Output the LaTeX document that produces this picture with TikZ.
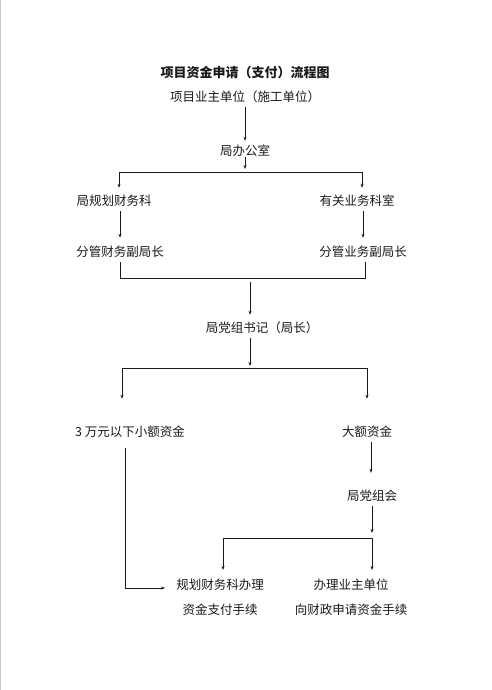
\documentclass[tikz,border=0pt]{standalone}
\usepackage{fontspec}
\setmainfont{Noto Sans CJK SC}
\usetikzlibrary{arrows.meta,calc}
\definecolor{ink}{HTML}{1A1A1A}
\definecolor{edge}{HTML}{C8C8C8}

\begin{document}
\begin{tikzpicture}[x=1pt,y=-1pt,font=\fontsize{12.5}{15}\selectfont,text=ink,
    >={Stealth[length=4pt,width=3pt]},
    lbl/.style={inner sep=0pt,minimum height=20pt},
    arr/.style={->,ink,line width=.8pt},
    ln/.style={ink,line width=.8pt}]
  \useasboundingbox (0,0) rectangle (491,690);
  \draw[edge,line width=1pt] (.5,0)--(.5,690);
  \node[font=\fontsize{13}{15}\selectfont\bfseries] (title) at (245,73)
    {项目资金申请（支付）流程图};

  % Application and office
  \node[lbl] (owner) at (245,97) {项目业主单位（施工单位）};
  \node[lbl] (office) at (245,151) {局办公室};
  \draw[arr] (owner.south) -- (office.north);
  \coordinate (s1) at (245,172);
  \coordinate (s1l) at (119,172);
  \coordinate (s1r) at (362,172);
  \draw[arr] ([yshift=4pt]office.south) -- ([yshift=3pt]s1);
  \draw[ln] (s1l) -- (s1r);

  % Two review branches
  \node[lbl] (plan) at (114,201) {局规划财务科};
  \node[lbl] (dept) at (357,201) {有关业务科室};
  \node[lbl] (vpfin) at (120,252) {分管财务副局长};
  \node[lbl] (vpbiz) at (363,252) {分管业务副局长};
  \draw[arr] (s1l) -- ([yshift=3pt]s1l |- plan.north);
  \draw[arr] (s1r) -- ([yshift=3pt]s1r |- dept.north);
  \draw[arr] (plan.south -| vpfin) -- ([yshift=4pt]vpfin.north);
  \draw[arr] (dept.south -| vpbiz) -- ([yshift=4pt]vpbiz.north);
  \coordinate (m1l) at (120,278);
  \coordinate (m1r) at (365,278);
  \draw[ln] (vpfin.south) -- (m1l) -- (m1r) -- (m1r |- vpbiz.south);

  % Secretary
  \node[lbl] (secretary) at (262,328) {局党组书记（局长）};
  \coordinate (m2) at (250,282);
  \draw[arr] (m2) -- ([yshift=3pt]m2 |- secretary.north);
  \coordinate (s3) at (250,368);
  \coordinate (s3l) at (122,368);
  \coordinate (s3r) at (367,368);
  \draw[arr] (secretary.south -| s3) -- ([yshift=2pt]s3);
  \draw[ln] (s3l) -- (s3r);

  % Small and large sums
  \node[lbl] (small) at (130,432) {3 万元以下小额资金};
  \node[lbl] (large) at (367,432) {大额资金};
  \node[lbl] (party) at (372,496) {局党组会};
  \coordinate (r1) at (371,442);
  \draw[arr] (s3l) -- ([yshift=23pt]s3l |- small.north);
  \draw[arr] (s3r) -- ([yshift=23pt]s3r |- large.north);
  \draw[arr] (r1) -- ([yshift=13pt]r1 |- party.north);

  % Payment procedures
  \node[lbl,align=center,font=\fontsize{12.5}{25}\selectfont] (payA) at (220,597)
    {规划财务科办理\\资金支付手续};
  \node[lbl,align=center,font=\fontsize{12.5}{25}\selectfont] (payB) at (351,597)
    {办理业主单位\\向财政申请资金手续};
  \coordinate (c1) at (125,448);
  \coordinate (c1e) at (165,588);
  \draw[arr] (c1) |- (c1e);
  \coordinate (s4) at (372,538);
  \coordinate (s4l) at (223,538);
  \coordinate (e4l) at (223,570);
  \coordinate (e4r) at (372,570);
  \draw[arr] (party.south -| s4) -- ([yshift=5pt]s4);
  \draw[ln] (s4l) -- (s4);
  \draw[arr] (s4l) -- (e4l);
  \draw[arr] (s4) -- (e4r);
\end{tikzpicture}
\end{document}
